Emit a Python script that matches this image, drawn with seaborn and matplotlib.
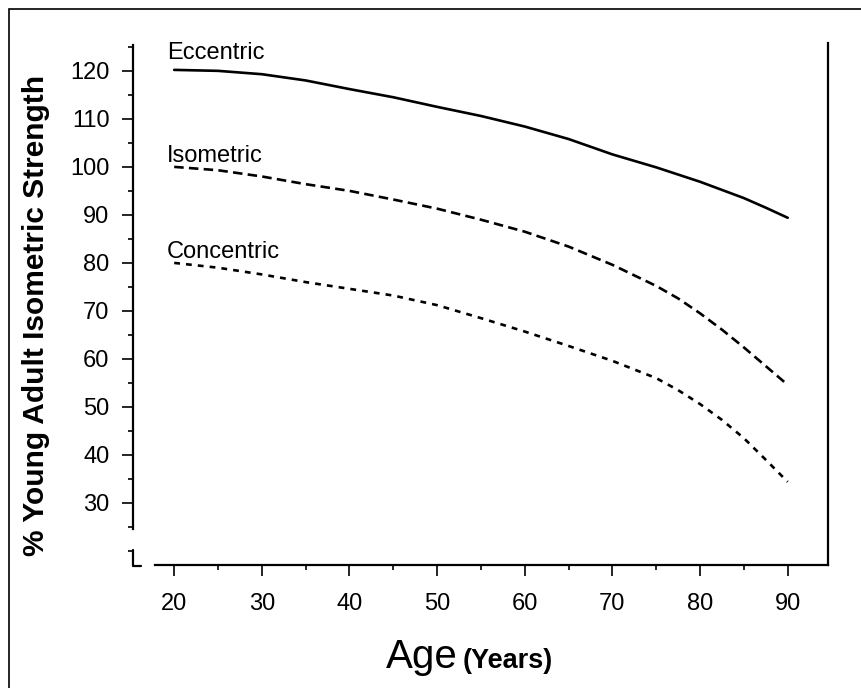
import pandas as pd
import seaborn as sns
import matplotlib.pyplot as plt
from matplotlib.patches import Rectangle
from matplotlib.ticker import MultipleLocator

# --- Data ---
AGE = [20, 25, 30, 35, 40, 45, 50, 55, 60, 65, 70, 75, 77.5, 80, 82.5, 85, 87.5, 90]
ECCENTRIC = [120.2, 120.0, 119.3, 118.0, 116.2, 114.5, 112.5, 110.6, 108.4, 105.8, 102.6,
             99.9, 98.4, 96.9, 95.2, 93.5, 91.5, 89.4]
ISOMETRIC = [100.0, 99.3, 98.0, 96.4, 95.0, 93.2, 91.3, 89.0, 86.5, 83.4, 79.6,
             75.2, 72.6, 69.5, 66.1, 62.4, 58.5, 54.6]
CONCENTRIC = [80.0, 79.0, 77.6, 76.0, 74.6, 73.2, 71.2, 68.5, 65.7, 62.7, 59.6,
              56.0, 53.5, 50.6, 47.3, 43.5, 39.0, 34.4]
SERIES = ["Eccentric", "Isometric", "Concentric"]
Y_TICKS = [30, 40, 50, 60, 70, 80, 90, 100, 110, 120]
X_TICKS = [20, 30, 40, 50, 60, 70, 80, 90]

OUTPUT_IMAGE_FILE = "out.png"


def build_frame():
    rows = []
    for name, values in zip(SERIES, [ECCENTRIC, ISOMETRIC, CONCENTRIC]):
        for a, v in zip(AGE, values):
            rows.append({"Age": a, "Strength": v, "Type": name})
    return pd.DataFrame(rows)


def main():
    sns.set_style("ticks")
    plt.rcParams["font.family"] = ["Liberation Sans", "DejaVu Sans"]
    plt.rcParams["text.color"] = "black"
    plt.rcParams["axes.labelcolor"] = "black"

    df = build_frame()

    fig = plt.figure(figsize=(8.61, 6.88), dpi=100)
    ax = fig.add_axes([0.15447, 0.17878, 0.80720, 0.75872])

    sns.lineplot(
        data=df, x="Age", y="Strength", style="Type", hue="Type",
        palette={s: "black" for s in SERIES},
        dashes={"Eccentric": "", "Isometric": (3.6, 2.0), "Concentric": (2.2, 2.3)},
        linewidth=1.9, legend=False, ax=ax,
    )

    ax.set_xlim(15.3, 94.6)
    ax.set_ylim(17.08, 125.8)
    ax.set_xticks(X_TICKS)
    ax.set_yticks(Y_TICKS)
    ax.xaxis.set_minor_locator(MultipleLocator(5))
    ax.yaxis.set_minor_locator(MultipleLocator(5))
    ax.tick_params(axis="both", which="major", length=8, width=1.2,
                   labelsize=17, color="black", labelcolor="black")
    ax.tick_params(axis="both", which="minor", length=3.5, width=1.2, color="black")
    ax.tick_params(axis="x", which="major", pad=12)
    ax.tick_params(axis="y", which="major", pad=9)

    # Axis frame as in the original figure
    for side in ["left", "bottom", "right"]:
        ax.spines[side].set_linewidth(1.6)
        ax.spines[side].set_color("black")
    ax.spines["top"].set_visible(False)
    ax.spines["left"].set_bounds(24.5, 125.4)
    ax.spines["bottom"].set_bounds(17.8, 94.6)
    # small axis-break mark at the lower left
    ax.plot([0, 0, 0.0115], [0.0287, -0.002, -0.002], transform=ax.transAxes,
            color="black", lw=1.6, clip_on=False)

    ax.set_xlabel("")
    ax.set_ylabel("% Young Adult Isometric Strength", fontsize=21.5, fontweight="bold")
    ax.yaxis.set_label_coords(-0.12, 0.479)

    # Curve labels
    ax.text(19.2, 122.4, "Eccentric", fontsize=17, va="baseline")
    ax.text(19.2, 101.0, "Isometric", fontsize=17, va="baseline")
    ax.text(19.2, 81.0, "Concentric", fontsize=17, va="baseline")

    # X label: "Age" large, "(Years)" bold and smaller
    fig.text(458 / 861, 1 - 668 / 688, "Age", fontsize=29, ha="right", va="baseline")
    fig.text(463 / 861, 1 - 668 / 688, "(Years)", fontsize=19.5, fontweight="bold",
             ha="left", va="baseline")

    # Outer frame
    fig.patches.append(Rectangle((9 / 861, -0.02), 1.0, 1 - 9 / 688 + 0.02,
                                 transform=fig.transFigure, fill=False,
                                 edgecolor="black", linewidth=1.2))

    fig.savefig(OUTPUT_IMAGE_FILE, dpi=100)


if __name__ == "__main__":
    main()
